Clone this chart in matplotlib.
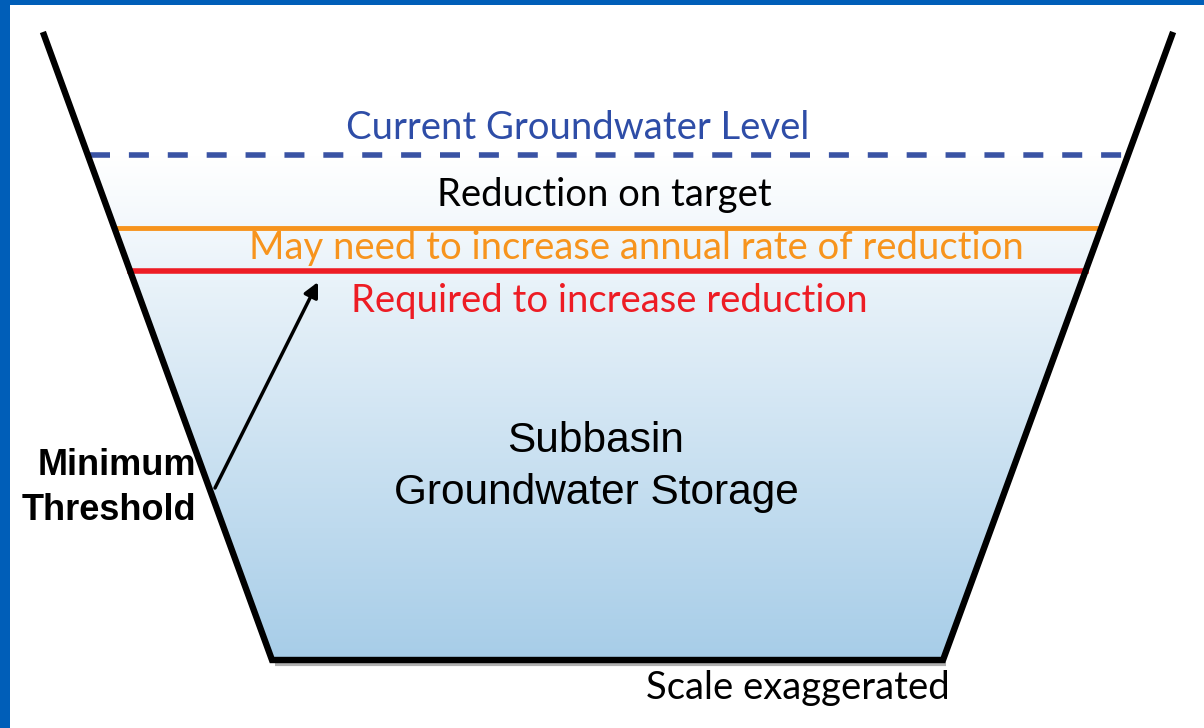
import numpy as np
import matplotlib.pyplot as plt
from matplotlib.patches import Polygon, Rectangle
from matplotlib.colors import LinearSegmentedColormap

# basin outline (pixel coordinates, y downward)
wall_x = [44, 272, 943, 1172]
wall_y = [35, 660, 660, 35]

# water levels: y position
level_current = 155
level_orange = 228
level_red = 271

labels = {
    'current': 'Current Groundwater Level',
    'target': 'Reduction on target',
    'may': 'May need to increase annual rate of reduction',
    'required': 'Required to increase reduction',
    'storage': 'Subbasin\nGroundwater Storage',
    'threshold': 'Minimum\nThreshold',
    'scale': 'Scale exaggerated',
}


def wall_at(y):
    # x of left / right wall at height y
    t = (y - wall_y[0]) / (wall_y[1] - wall_y[0])
    xl = wall_x[0] + t * (wall_x[1] - wall_x[0])
    xr = wall_x[3] + t * (wall_x[2] - wall_x[3])
    return xl, xr


fig = plt.figure(figsize=(12.04, 7.28), dpi=100)
ax = fig.add_axes([0, 0, 1, 1])
ax.set_xlim(0, 1204)
ax.set_ylim(728, 0)
ax.axis('off')

# gradient water body
xl0, xr0 = wall_at(level_current)
water = Polygon([(xl0, level_current), (wall_x[1], wall_y[1]),
                 (wall_x[2], wall_y[2]), (xr0, level_current)],
                closed=True, facecolor='none', edgecolor='none')
ax.add_patch(water)
cmap = LinearSegmentedColormap.from_list('water', ['#ffffff', '#a7cde8'])
grad = np.linspace(0, 1, 256).reshape(-1, 1)
im = ax.imshow(grad, cmap=cmap, aspect='auto',
               extent=[0, 1204, wall_y[1], level_current], origin='upper',
               zorder=1)
im.set_clip_path(water)

# shadow under bottom
ax.plot([wall_x[1] + 3, wall_x[2] + 3], [wall_y[1] + 4, wall_y[2] + 4],
        color='#b0b0b0', lw=3, zorder=2, solid_capstyle='butt')
# walls
ax.plot(wall_x, wall_y, color='black', lw=4.6, zorder=3,
        solid_joinstyle='miter', solid_capstyle='projecting')

# level lines
xl, xr = wall_at(level_current)
ax.plot([xl + 2, xr - 2], [level_current] * 2, color='#3a53a4', lw=4,
        dashes=(3.6, 3.4), zorder=2, solid_capstyle='butt')
xl, xr = wall_at(level_orange)
ax.plot([xl, xr], [level_orange] * 2, color='#f7941d', lw=3.5, zorder=2)
xl, xr = wall_at(level_red)
ax.plot([xl, xr], [level_red] * 2, color='#ed1c24', lw=4, zorder=2)

sans = 'Lato'
fs = 27.5
ax.text(578, 128, labels['current'], color='#2e4da7', fontsize=fs,
        family=sans, ha='center', va='center', zorder=4)
ax.text(604, 195, labels['target'], color='black', fontsize=fs,
        family=sans, ha='center', va='center', zorder=4)
ax.text(636, 248, labels['may'], color='#f7941d', fontsize=fs,
        family=sans, ha='center', va='center', zorder=4)
ax.text(609, 301, labels['required'], color='#ed1c24', fontsize=fs,
        family=sans, ha='center', va='center', zorder=4)
ax.text(798, 688, labels['scale'], color='black', fontsize=fs,
        family=sans, ha='center', va='center', zorder=4)

ax.text(596, 467, labels['storage'], color='black', fontsize=30.5,
        family='Liberation Sans', ha='center', va='center',
        linespacing=1.38, zorder=4)
ax.text(196, 488, labels['threshold'], color='black', fontsize=26,
        family='Liberation Sans', weight='bold', ha='right', va='center',
        multialignment='right', linespacing=1.35, zorder=4)

ax.annotate('', xy=(318, 282), xytext=(215, 488),
            arrowprops=dict(arrowstyle='-|>', color='black', lw=2.5,
                            mutation_scale=22, shrinkA=0, shrinkB=0),
            zorder=4)

# blue frame (left and top)
fig.patches.append(Rectangle((0, 0), 10 / 1204, 1, transform=fig.transFigure,
                             facecolor='#005eb8', edgecolor='none'))
fig.patches.append(Rectangle((0, 1 - 5 / 728), 1, 5 / 728,
                             transform=fig.transFigure,
                             facecolor='#005eb8', edgecolor='none'))

fig.savefig('out.png', dpi=100)
